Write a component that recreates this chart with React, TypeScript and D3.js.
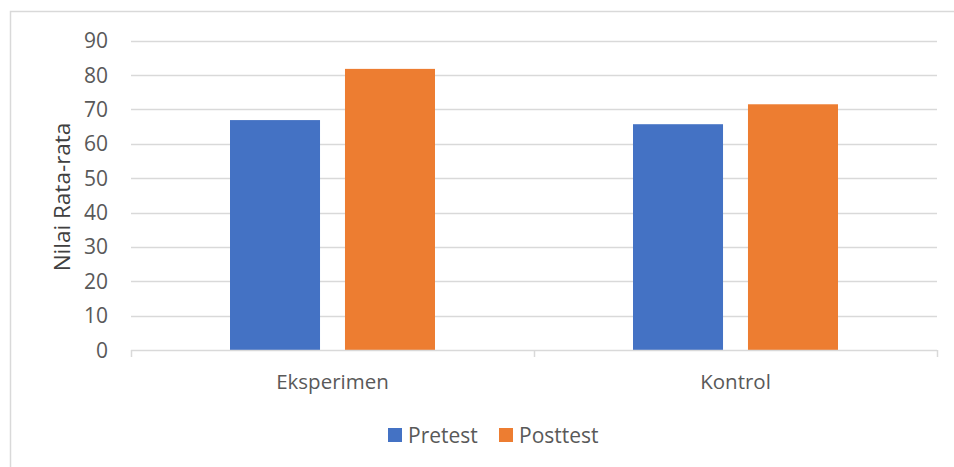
import { useEffect, useRef } from "react";
import * as d3 from "d3";

const categories = ["Eksperimen", "Kontrol"];
const seriesNames = ["Pretest", "Posttest"];
const pretest = [66.9, 65.7];
const posttest = [81.8, 71.5];
const yTicks = [0, 10, 20, 30, 40, 50, 60, 70, 80, 90];
const colors = ["#4472C4", "#ED7D31"];

export default function App() {
  const svgRef = useRef<SVGSVGElement>(null);

  useEffect(() => {
    document.body.style.margin = "0";
    if (!svgRef.current) return;
    const width = 954;
    const height = 467;
    const font = "'Open Sans', sans-serif";
    const textColor = "#595959";
    const gridColor = "#d9d9d9";

    const svg = d3.select(svgRef.current);
    svg.selectAll("*").remove();
    svg.attr("width", width).attr("height", height);

    svg.append("rect").attr("width", width).attr("height", height).attr("fill", "#fff");
    // chart border (runs off the right and bottom edges)
    svg
      .append("rect")
      .attr("x", 10.5)
      .attr("y", 11.5)
      .attr("width", width + 10)
      .attr("height", height + 10)
      .attr("fill", "none")
      .attr("stroke", gridColor)
      .attr("stroke-width", 1.5);

    const left = 131;
    const right = 937;
    const top = 40.7;
    const bottom = 350;

    const y = d3.scaleLinear().domain([0, 90]).range([bottom, top]);
    const x0 = d3.scaleBand<string>().domain(categories).range([left, right]).padding(0);
    const x1 = d3.scaleBand<string>().domain(seriesNames).range([-102.5, 102.5]).paddingInner(0.217);

    // gridlines
    svg
      .append("g")
      .selectAll("line")
      .data(yTicks.filter((t) => t > 0))
      .enter()
      .append("line")
      .attr("x1", left)
      .attr("x2", right)
      .attr("y1", (d) => Math.round(y(d)) + 0.5)
      .attr("y2", (d) => Math.round(y(d)) + 0.5)
      .attr("stroke", gridColor)
      .attr("stroke-width", 1.5);

    // y tick labels
    svg
      .append("g")
      .selectAll("text")
      .data(yTicks)
      .enter()
      .append("text")
      .attr("x", 108)
      .attr("y", (d) => y(d))
      .attr("dy", "0.36em")
      .attr("text-anchor", "end")
      .attr("fill", textColor)
      .attr("font-family", font)
      .attr("font-size", "21px")
      .text((d) => d);

    // bars
    const values = [pretest, posttest];
    const g = svg.append("g");
    categories.forEach((c, ci) => {
      const cx = (x0(c) ?? 0) + x0.bandwidth() / 2;
      seriesNames.forEach((s, si) => {
        const v = values[si][ci];
        g.append("rect")
          .attr("x", cx + (x1(s) ?? 0))
          .attr("y", y(v))
          .attr("width", x1.bandwidth())
          .attr("height", y(0) - y(v))
          .attr("fill", colors[si]);
      });
    });

    // x axis line and ticks
    svg
      .append("line")
      .attr("x1", left)
      .attr("x2", right)
      .attr("y1", bottom + 0.5)
      .attr("y2", bottom + 0.5)
      .attr("stroke", gridColor)
      .attr("stroke-width", 1.5);
    const tickXs = [...categories.map((c) => x0(c) ?? 0), right];
    svg
      .append("g")
      .selectAll("line")
      .data(tickXs)
      .enter()
      .append("line")
      .attr("x1", (d) => Math.round(d) + 0.5)
      .attr("x2", (d) => Math.round(d) + 0.5)
      .attr("y1", bottom)
      .attr("y2", bottom + 7)
      .attr("stroke", gridColor)
      .attr("stroke-width", 1.5);

    // category labels
    svg
      .append("g")
      .selectAll("text")
      .data(categories)
      .enter()
      .append("text")
      .attr("x", (d) => (x0(d) ?? 0) + x0.bandwidth() / 2)
      .attr("y", 389)
      .attr("text-anchor", "middle")
      .attr("fill", textColor)
      .attr("font-family", font)
      .attr("font-size", "20.5px")
      .text((d) => d);

    // y axis title
    svg
      .append("text")
      .attr("transform", `translate(70,197) rotate(-90)`)
      .attr("text-anchor", "middle")
      .attr("fill", "#404040")
      .attr("font-family", font)
      .attr("font-size", "22.5px")
      .text("Nilai Rata-rata");

    // legend
    const legendX = [388, 499];
    const lg = svg.append("g");
    seriesNames.forEach((s, i) => {
      lg.append("rect")
        .attr("x", legendX[i])
        .attr("y", 428)
        .attr("width", 14)
        .attr("height", 14)
        .attr("fill", colors[i]);
      lg.append("text")
        .attr("x", legendX[i] + 20)
        .attr("y", 435)
        .attr("dy", "0.36em")
        .attr("fill", textColor)
        .attr("font-family", font)
        .attr("font-size", "21px")
        .text(s);
    });
  }, []);

  return <svg ref={svgRef} style={{ display: "block" }} />;
}
